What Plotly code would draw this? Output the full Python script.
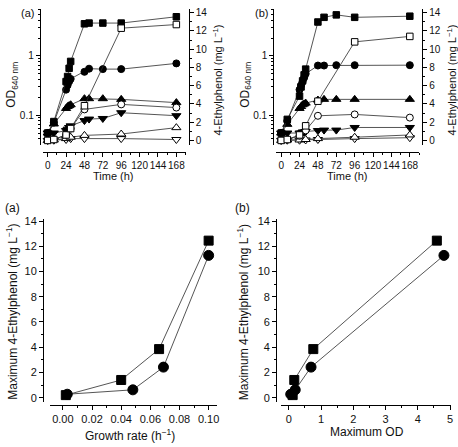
import plotly.graph_objects as go

W, H = 458, 447
def fx(px): return px / W
def fy(py): return 1 - py / H

# ---------------- data ----------------
# Panel (a) top: OD (filled) and 4-ethylphenol (open)
t_a_od = [0, 8, 24, 26, 28, 30, 48, 54, 72, 96, 168]
od_a_sq = [0.05, 0.078, 0.37, 0.45, 0.62, 0.81, 3.5, 3.6, 3.6, 3.6, 4.6]
od_a_ci = [0.05, 0.075, 0.27, 0.32, 0.37, 0.41, 0.54, 0.61, 0.6, 0.6, 0.75]
od_a_tu = [0.05, 0.071, 0.13, 0.14, 0.145, 0.15, 0.19, 0.19, 0.19, 0.185, 0.163]
od_a_td = [0.05, 0.05, 0.055, 0.058, 0.062, 0.066, 0.081, 0.086, 0.088, 0.11, 0.098]
t_a_ep = [0, 8, 24, 30, 48, 96, 168]
ep_a_sq = [0, 0.1, 0.6, 1.3, 3.8, 12.3, 12.7]
ep_a_ci = [0, 0.1, 0.6, 1.3, 3.4, 3.95, 3.6]
ep_a_tu = [0, 0.05, 0.2, 0.35, 0.55, 0.7, 1.4]
ep_a_td = [0, 0.02, 0.1, 0.2, 0.2, 0.2, 0.1]

# Panel (b) top
t_b_od = [0, 8, 24, 26, 28, 30, 32, 48, 56, 72, 96, 168]
od_b_sq = [0.05, 0.085, 0.21, 0.3, 0.38, 0.48, 0.6, 3.75, 4.5, 4.95, 4.5, 4.7]
od_b_ci = [0.05, 0.08, 0.27, 0.32, 0.37, 0.43, 0.5, 0.69, 0.69, 0.7, 0.7, 0.7]
od_b_tu = [0.05, 0.07, 0.13, 0.14, 0.15, 0.155, 0.16, 0.18, 0.185, 0.185, 0.185, 0.185]
od_b_td = [0.05, 0.05, 0.05, 0.05, 0.052, 0.052, 0.053, 0.055, 0.056, 0.056, 0.062, 0.062]
t_b_ep = [0, 8, 24, 32, 48, 96, 168]
ep_b_sq = [0, 0.1, 0.6, 1.6, 4.3, 10.8, 11.4]
ep_b_ci = [0, 0.1, 0.5, 1.1, 2.7, 2.85, 2.5]
ep_b_tu = [0, 0.05, 0.05, 0.1, 0.2, 0.35, 0.6]
ep_b_td = [0, 0.02, 0.02, 0.05, 0.1, 0.2, 0.3]

# Bottom panels
growth_a = [0.002, 0.04, 0.066, 0.1]
maxep_a = [0.2, 1.4, 3.85, 12.45]
maxod_a = [0.12, 0.17, 0.76, 4.59]
growth_b = [0.003, 0.048, 0.069, 0.1]
maxep_b = [0.27, 0.62, 2.42, 11.28]
maxod_b = [0.06, 0.2, 0.69, 4.81]

time_ticks = [0, 24, 48, 72, 96, 120, 144, 168]

# ---------------- figure ----------------
FONT = "Liberation Sans, Arial, sans-serif"
LC = "#2a2a2a"
fig = go.Figure()

def add(x, y, xa, ya, symbol, filled, size):
    fig.add_trace(go.Scatter(
        x=x, y=y, xaxis=xa, yaxis=ya, mode="lines+markers",
        line=dict(color=LC, width=0.8),
        marker=dict(symbol=symbol, size=size,
                    color="black" if filled else "white",
                    line=dict(color="black", width=1)),
        cliponaxis=False, showlegend=False, hoverinfo="skip"))

# top (a)
add(t_a_ep, ep_a_td, "x", "y2", "triangle-down", False, 8)
add(t_a_ep, ep_a_tu, "x", "y2", "triangle-up", False, 8)
add(t_a_ep, ep_a_ci, "x", "y2", "circle", False, 7)
add(t_a_ep, ep_a_sq, "x", "y2", "square", False, 6.5)
add(t_a_od, od_a_td, "x", "y", "triangle-down", True, 8)
add(t_a_od, od_a_tu, "x", "y", "triangle-up", True, 8)
add(t_a_od, od_a_ci, "x", "y", "circle", True, 7)
add(t_a_od, od_a_sq, "x", "y", "square", True, 6.5)
# top (b)
add(t_b_ep, ep_b_td, "x2", "y4", "triangle-down", False, 8)
add(t_b_ep, ep_b_tu, "x2", "y4", "triangle-up", False, 8)
add(t_b_ep, ep_b_ci, "x2", "y4", "circle", False, 7)
add(t_b_ep, ep_b_sq, "x2", "y4", "square", False, 6.5)
add(t_b_od, od_b_td, "x2", "y3", "triangle-down", True, 8)
add(t_b_od, od_b_tu, "x2", "y3", "triangle-up", True, 8)
add(t_b_od, od_b_ci, "x2", "y3", "circle", True, 7)
add(t_b_od, od_b_sq, "x2", "y3", "square", True, 6.5)
# bottom
add(growth_a, maxep_a, "x3", "y5", "square", True, 9)
add(growth_b, maxep_b, "x3", "y5", "circle", True, 10)
add(maxod_a, maxep_a, "x4", "y6", "square", True, 9)
add(maxod_b, maxep_b, "x4", "y6", "circle", True, 10)

common = dict(showline=True, linecolor="black", linewidth=1, ticks="outside",
              ticklen=4, tickwidth=1, tickcolor="black", showgrid=False,
              zeroline=False, anchor="free", tickangle=0)
log_minor = [0.04, 0.05, 0.06, 0.07, 0.08, 0.09, 0.2, 0.3, 0.4, 0.5, 0.6,
             0.7, 0.8, 0.9, 2, 3, 4, 5, 6]

def time_axis(x0, x1):
    return dict(common, domain=[fx(x0), fx(x1)], range=[-6.5, 180.3],
                position=fy(150), tickvals=time_ticks,
                tickfont=dict(size=10, family=FONT, color="#111"),
                minor=dict(dtick=12, tick0=0, ticks="outside", ticklen=2,
                           tickcolor="black"))

def od_axis(xpos):
    return dict(common, domain=[fy(143), fy(5)], type="log",
                range=[-1.505, 0.795], position=fx(xpos),
                tickvals=[0.1, 1], ticktext=["0.1", "1"],
                tickfont=dict(size=10, family=FONT, color="#111"),
                minor=dict(tickvals=log_minor, ticks="outside", ticklen=2,
                           tickcolor="black"))

def ep_axis(xpos, over):
    return dict(common, domain=[fy(143), fy(5)], overlaying=over, side="right",
                range=[-0.51, 14.41], position=fx(xpos), dtick=2, tick0=0,
                tickfont=dict(size=10, family=FONT, color="#111"),
                minor=dict(dtick=1, tick0=0, ticks="outside", ticklen=2,
                           tickcolor="black"))

fig.update_layout(
    width=W, height=H, margin=dict(l=0, r=0, t=0, b=0),
    paper_bgcolor="white", plot_bgcolor="white",
    font=dict(family=FONT, color="#111"),
    xaxis=time_axis(43, 187),
    yaxis=od_axis(40),
    yaxis2=ep_axis(190, "y"),
    xaxis2=time_axis(278, 422),
    yaxis3=od_axis(275),
    yaxis4=ep_axis(425, "y3"),
    xaxis3=dict(common, domain=[fx(50), fx(218)], range=[-0.00907, 0.10545],
                position=fy(406.7), dtick=0.02, tick0=0, tickformat=".2f",
                tickfont=dict(size=11, family=FONT, color="#111"),
                minor=dict(dtick=0.01, tick0=0, ticks="outside", ticklen=2,
                           tickcolor="black")),
    yaxis5=dict(common, domain=[fy(403), fy(218)], range=[-0.313, 14.16],
                position=fx(43.3), dtick=2, tick0=0,
                tickfont=dict(size=11, family=FONT, color="#111"),
                minor=dict(dtick=1, tick0=0, ticks="outside", ticklen=2,
                           tickcolor="black")),
    xaxis4=dict(common, domain=[fx(283), fx(454)], range=[-0.237, 5.03],
                position=fy(406.7), dtick=1, tick0=0,
                tickfont=dict(size=11, family=FONT, color="#111"),
                minor=dict(dtick=0.5, tick0=0, ticks="outside", ticklen=2,
                           tickcolor="black")),
    yaxis6=dict(common, domain=[fy(403), fy(218)], range=[-0.313, 14.16],
                position=fx(278), dtick=2, tick0=0,
                tickfont=dict(size=11, family=FONT, color="#111"),
                minor=dict(dtick=1, tick0=0, ticks="outside", ticklen=2,
                           tickcolor="black")),
)

def ann(text, x, y, size, angle=0):
    fig.add_annotation(text=text, x=fx(x), y=fy(y), xref="paper", yref="paper",
                       showarrow=False, textangle=angle, xanchor="center",
                       yanchor="middle", font=dict(size=size, family=FONT, color="#111"))

ep_title = "4-Ethylphenol (mg L<sup>−1</sup>)"
max_title = "Maximum 4-Ethylphenol (mg L<sup>−1</sup>)"
for dx, lab in [(0, "(a)"), (235.5, "(b)")]:
    ann(lab, 28 + dx, 9, 11)
    ann("OD<sub>640 nm</sub>", 12 + dx, 82, 12, -90)
    ann(ep_title, 219 + dx, 77, 11, -90)
    ann("Time (h)", 114 + dx, 174, 11)

ann("(a)", 13, 207, 12)
ann("(b)", 244, 207, 12)
ann(max_title, 12, 312, 12, -90)
ann(max_title, 244, 312, 12, -90)
ann("Growth rate (h<sup>−1</sup>)", 131, 437, 12)
ann("Maximum OD", 369, 434, 12)

fig.write_html("out.html")
